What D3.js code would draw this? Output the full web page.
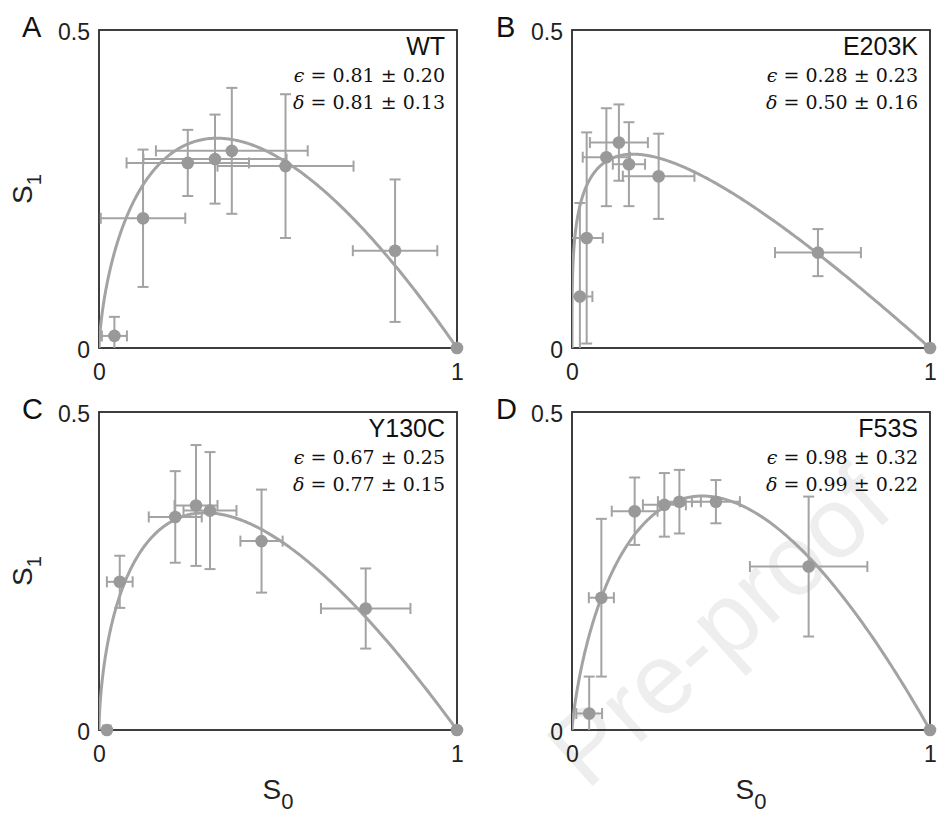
<!DOCTYPE html>
<html>
<head>
  <meta charset="utf-8">
  <title>S1 vs S0</title>
  <script src="https://cdnjs.cloudflare.com/ajax/libs/d3/7.8.5/d3.min.js"></script>
<style>
body{
  margin:0;
  background:#fff;
}
.panel-letter{
  font-family:"Liberation Sans", Arial, sans-serif;
  font-size:29px;
  fill:#111;
}
.mutant{
  font-family:"Liberation Sans", Arial, sans-serif;
  font-size:25px;
  fill:#111;
}
.fitpar{
  font-family:"DejaVu Serif", "Liberation Serif", serif;
  font-size:19px;
  fill:#111;
}
.axlabel{
  font-family:"Liberation Sans", Arial, sans-serif;
  font-size:28px;
  fill:#222;
}
</style>
</head>
<body>
<svg id="fig" width="937" height="814"></svg>

<script>
// panel info
var panelIds = ["A", "B", "C", "D"];
var mutants = ["WT", "E203K", "Y130C", "F53S"];
var epsVal = [0.81, 0.28, 0.67, 0.98];
var epsErr = [0.20, 0.23, 0.25, 0.32];
var deltaVal = [0.81, 0.50, 0.77, 0.99];
var deltaErr = [0.13, 0.16, 0.15, 0.22];

// axis ticks
var xTicks = [0, 1];
var yTicks = [0, 0.5];
var yTickLabels = ["0", "0.5"];

// data: S0, S1 and their error half-widths
var s0A    = [0.043, 0.123, 0.248, 0.324, 0.371, 0.521, 0.827, 1];
var s1A    = [0.019, 0.204, 0.291, 0.297, 0.310, 0.286, 0.153, 0];
var s0errA = [0.035, 0.118, 0.171, 0.200, 0.212, 0.190, 0.118, 0];
var s1errA = [0.030, 0.108, 0.052, 0.070, 0.099, 0.113, 0.112, 0];

var s0B    = [0.022, 0.041, 0.096, 0.131, 0.159, 0.242, 0.687, 1];
var s1B    = [0.081, 0.173, 0.300, 0.323, 0.289, 0.270, 0.150, 0];
var s0errB = [0.035, 0.045, 0.066, 0.081, 0.045, 0.100, 0.120, 0];
var s1errB = [0.147, 0.166, 0.077, 0.060, 0.066, 0.067, 0.037, 0];

var s0C    = [0.022, 0.058, 0.213, 0.271, 0.310, 0.454, 0.745, 1];
var s1C    = [0, 0.233, 0.335, 0.353, 0.345, 0.297, 0.191, 0];
var s0errC = [0.010, 0.036, 0.074, 0.060, 0.074, 0.059, 0.125, 0];
var s1errC = [0, 0.041, 0.072, 0.095, 0.092, 0.081, 0.063, 0];

var s0D    = [0.048, 0.082, 0.175, 0.258, 0.300, 0.402, 0.661, 1];
var s1D    = [0.026, 0.208, 0.344, 0.354, 0.359, 0.359, 0.257, 0];
var s0errD = [0.036, 0.035, 0.064, 0.060, 0.060, 0.067, 0.164, 0];
var s1errD = [0.058, 0.124, 0.053, 0.050, 0.050, 0.034, 0.110, 0];

var s0All = [s0A, s0B, s0C, s0D];
var s1All = [s1A, s1B, s1C, s1D];
var s0errAll = [s0errA, s0errB, s0errC, s0errD];
var s1errAll = [s1errA, s1errB, s1errC, s1errD];

// layout
var panelX = [99, 572, 99, 572];
var panelY = [30, 30, 412, 412];
var pw = 358, ph = 318;

var grey = "#a3a3a3";
var dotGrey = "#999999";

var svg = d3.select("#fig");

// watermark
svg.append("text")
  .attr("transform", "translate(718,626) rotate(-42)")
  .attr("text-anchor", "middle")
  .attr("dominant-baseline", "central")
  .style("font-family", "'Liberation Sans', Arial, sans-serif")
  .style("font-size", "100px")
  .style("fill", "#eeeeee")
  .text("Pre-proof");

// fitted curve S1 = delta * (S0^eps - S0) / (1 - eps), from the shown fit parameters
function fitCurve(eps, delta) {
  var pts = [];
  for (var t = 0; t <= 1.00001; t += 0.0025) {
    var s0 = Math.pow(t, 3);
    pts.push([s0, delta * (Math.pow(s0, eps) - s0) / (1 - eps)]);
  }
  return pts;
}

panelIds.forEach(function(id, p) {
  var x = d3.scaleLinear().domain([0, 1]).range([0, pw]);
  var y = d3.scaleLinear().domain([0, 0.5]).range([ph, 0]);

  var g = svg.append("g")
    .attr("transform", "translate(" + panelX[p] + "," + panelY[p] + ")");

  g.append("clipPath").attr("id", "clip" + id)
    .append("rect").attr("width", pw).attr("height", ph);

  // box
  g.append("rect")
    .attr("width", pw).attr("height", ph)
    .attr("fill", "none")
    .attr("stroke", "#2a2a2a")
    .attr("stroke-width", 1.8);

  // axes (labels only)
  var yAxis = d3.axisLeft(y).tickValues(yTicks).tickSize(0).tickPadding(9)
    .tickFormat(function(d, i) { return yTickLabels[i]; });
  var xAxis = d3.axisBottom(x).tickValues(xTicks).tickSize(0).tickPadding(16)
    .tickFormat(d3.format("d"));

  var ya = g.append("g").attr("transform", "translate(0,2)").call(yAxis);
  var xa = g.append("g").attr("transform", "translate(0," + ph + ")").call(xAxis);
  [ya, xa].forEach(function(a) {
    a.select(".domain").remove();
    a.attr("font-family", "'Liberation Sans', Arial, sans-serif")
     .attr("font-size", 23);
    a.selectAll("text").attr("fill", "#222");
  });

  var plot = g.append("g").attr("clip-path", "url(#clip" + id + ")");

  // curve
  plot.append("path")
    .datum(fitCurve(epsVal[p], deltaVal[p]))
    .attr("fill", "none")
    .attr("stroke", grey)
    .attr("stroke-width", 3)
    .attr("d", d3.line().x(function(d) { return x(d[0]); }).y(function(d) { return y(d[1]); }));

  var pts = s0All[p].map(function(v, i) {
    return {s0: v, s1: s1All[p][i], ex: s0errAll[p][i], ey: s1errAll[p][i]};
  });

  var cap = 5.5;
  var eb = plot.selectAll(".eb").data(pts).enter().append("g").attr("class", "eb")
    .attr("stroke", grey).attr("stroke-width", 2);

  eb.filter(function(d) { return d.ey > 0; }).each(function(d) {
    var e = d3.select(this);
    var cx = x(d.s0), y0 = y(d.s1 - d.ey), y1 = y(d.s1 + d.ey);
    e.append("line").attr("x1", cx).attr("x2", cx).attr("y1", y0).attr("y2", y1);
    e.append("line").attr("x1", cx - cap).attr("x2", cx + cap).attr("y1", y0).attr("y2", y0);
    e.append("line").attr("x1", cx - cap).attr("x2", cx + cap).attr("y1", y1).attr("y2", y1);
  });
  eb.filter(function(d) { return d.ex > 0; }).each(function(d) {
    var e = d3.select(this);
    var cy = y(d.s1), x0 = x(d.s0 - d.ex), x1 = x(d.s0 + d.ex);
    e.append("line").attr("x1", x0).attr("x2", x1).attr("y1", cy).attr("y2", cy);
    e.append("line").attr("x1", x0).attr("x2", x0).attr("y1", cy - cap).attr("y2", cy + cap);
    e.append("line").attr("x1", x1).attr("x2", x1).attr("y1", cy - cap).attr("y2", cy + cap);
  });

  // points (not clipped)
  g.selectAll(".mark").data(pts).enter().append("circle")
    .attr("class", "mark")
    .attr("cx", function(d) { return x(d.s0); })
    .attr("cy", function(d) { return y(d.s1); })
    .attr("r", 6.3)
    .attr("fill", dotGrey);

  // panel letter
  g.append("text").attr("class", "panel-letter")
    .attr("x", p % 2 == 0 ? -77 : -76)
    .attr("y", 7)
    .text(id);

  // mutant name + fit values
  g.append("text").attr("class", "mutant")
    .attr("x", pw - 12).attr("y", 25)
    .attr("text-anchor", "end")
    .text(mutants[p]);

  var lines = [["\u03F5", epsVal[p], epsErr[p]], ["\u03B4", deltaVal[p], deltaErr[p]]];
  lines.forEach(function(l, k) {
    var t = g.append("text").attr("class", "fitpar")
      .attr("x", pw - 12).attr("y", 52 + k * 27)
      .attr("text-anchor", "end");
    t.append("tspan").style("font-style", "italic").text(l[0]);
    t.append("tspan").text(" = " + l[1].toFixed(2) + " \u00B1 " + l[2].toFixed(2));
  });

  // S1 label on left column
  if (p % 2 == 0) {
    var sl = g.append("text").attr("class", "axlabel")
      .attr("transform", "translate(-67," + (ph / 2) + ") rotate(-90)")
      .attr("text-anchor", "middle");
    sl.append("tspan").text("S");
    sl.append("tspan").attr("dy", 9).style("font-size", "20px").text("1");
  }
  // S0 label on bottom row
  if (p >= 2) {
    var bl = g.append("text").attr("class", "axlabel")
      .attr("x", pw / 2).attr("y", ph + 69)
      .attr("text-anchor", "middle");
    bl.append("tspan").text("S");
    bl.append("tspan").attr("dy", 10).style("font-size", "22px").text("0");
  }
});
</script>
</body>
</html>
